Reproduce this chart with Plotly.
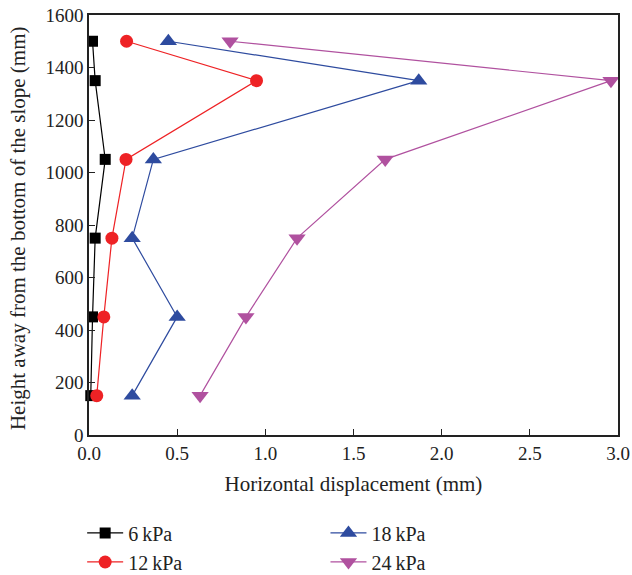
import plotly.graph_objects as go

# Heights of the measuring points (mm)
height = [1500, 1350, 1050, 750, 450, 150]

# Horizontal displacement (mm) at each height, per surcharge load
disp_6kpa = [0.02, 0.035, 0.092, 0.035, 0.02, 0.01]
disp_12kpa = [0.213, 0.95, 0.21, 0.13, 0.084, 0.044]
disp_18kpa = [0.45, 1.87, 0.365, 0.245, 0.50, 0.245]
disp_24kpa = [0.80, 2.96, 1.68, 1.18, 0.89, 0.63]

series = [
    ("6\u2009kPa", disp_6kpa, "#000000", "square", 11, "legend"),
    ("12\u2009kPa", disp_12kpa, "#ee2225", "circle", 13, "legend"),
    ("18\u2009kPa", disp_18kpa, "#2e4b9f", "triangle-up", 15, "legend2"),
    ("24\u2009kPa", disp_24kpa, "#b0519f", "triangle-down", 15, "legend2"),
]

FONT = "Liberation Serif, Times New Roman, serif"
TICK_FS = 19
TITLE_FS = 21
LEGEND_FS = 20

fig = go.Figure()
for name, xs, color, symbol, size, lg in series:
    fig.add_trace(go.Scatter(
        x=xs, y=height, name=name, mode="lines+markers",
        line=dict(color=color, width=1.2),
        marker=dict(symbol=symbol, size=size, color=color),
        legend=lg, cliponaxis=False,
    ))

axis_common = dict(
    showline=True, linecolor="#222", linewidth=1.5, mirror=True,
    ticks="inside", ticklen=6, tickcolor="#222", showgrid=False,
    zeroline=False, automargin=True,
    tickfont=dict(family=FONT, size=TICK_FS, color="#222"),
)

legend_common = dict(
    xref="container", yref="container", xanchor="left", yanchor="top",
    font=dict(family=FONT, size=LEGEND_FS, color="#222"), tracegroupgap=0,
    bgcolor="rgba(0,0,0,0)", itemwidth=36,
)

fig.update_layout(
    width=632, height=575,
    margin=dict(l=89, r=14, t=15, b=140, autoexpand=False),
    paper_bgcolor="white", plot_bgcolor="white",
    font=dict(family=FONT, size=TICK_FS, color="#222"),
    xaxis=dict(range=[0, 3.0], dtick=0.5, tickformat=".1f",
               title=dict(text="Horizontal displacement (mm)", standoff=14,
                          font=dict(family=FONT, size=TITLE_FS)),
               **axis_common),
    yaxis=dict(range=[0, 1600], dtick=200, **axis_common),
    legend=dict(x=0.13, y=0.107, **legend_common),
    legend2=dict(x=0.515, y=0.107, **legend_common),
)

# Vertical axis title
fig.add_annotation(
    text="Height away from the bottom of the slope (mm)",
    xref="paper", yref="paper", x=-0.134, y=0.493,
    xanchor="center", yanchor="middle", textangle=-90, showarrow=False,
    font=dict(family=FONT, size=TITLE_FS, color="#222"),
)

fig.write_html("out.html")
